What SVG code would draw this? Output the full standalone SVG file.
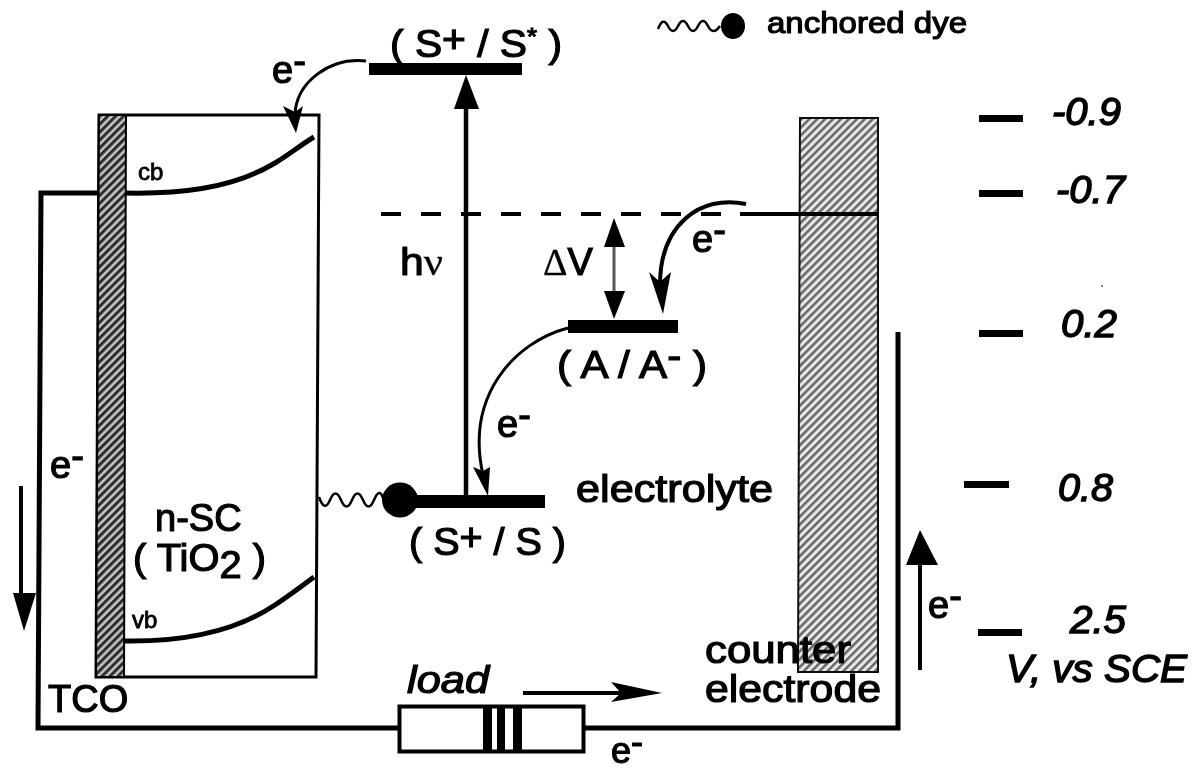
<svg xmlns="http://www.w3.org/2000/svg" width="1194" height="771" viewBox="0 0 1194 771">
<style>
text{font-family:"Liberation Sans",Arial,sans-serif;fill:#000;stroke:#000;stroke-width:1.2}
.t{font-size:38px}
.s{font-size:24px;stroke-width:.8}
.i{font-size:38px;font-style:italic;stroke-width:1.4}
.w{fill:none;stroke:#000}
.nu{font-family:"Liberation Serif",serif;stroke-width:.3}
</style>
<defs>
<pattern id="hd" width="5.6" height="5.6" patternUnits="userSpaceOnUse" patternTransform="rotate(-45)">
<rect width="5.6" height="5.6" fill="#c8c8c8"/><rect width="5.6" height="3.1" fill="#2e2e2e"/>
</pattern>
<pattern id="hl" width="5.6" height="5.6" patternUnits="userSpaceOnUse" patternTransform="rotate(-45)">
<rect width="5.6" height="5.6" fill="#e8e8e8"/><rect width="5.6" height="2.5" fill="#666"/>
</pattern>
<filter id="soft" x="0" y="0" width="100%" height="100%"><feGaussianBlur stdDeviation="0.6"/></filter>
</defs>
<rect width="1194" height="771" fill="#fff"/>
<g filter="url(#soft)">
<g id="semiconductor">
<polygon points="99,115 319,115 316,677 96,677" fill="#fff" stroke="#000" stroke-width="3"/>
<path class="w" stroke-width="5" d="M125,193 C175,194 230,190 275,163 C290,154 302,144 314,137"/>
<path class="w" stroke-width="5" d="M123,641 C175,642 230,635 275,605 C290,595 302,586 314,577"/>
<text class="s" x="138" y="180">cb</text>
<text class="s" x="132" y="628">vb</text>
<text class="t" x="155" y="531">n-SC</text>
<text class="t" x="133" y="571" textLength="133" lengthAdjust="spacingAndGlyphs">( TiO<tspan dy="7">2</tspan><tspan dy="-7"> )</tspan></text>
</g>
<g id="tco">
<polygon points="99,115 126,115 124,677 96,677" fill="url(#hd)" stroke="#000" stroke-width="2"/>
<text class="t" x="48" y="712">TCO</text>
</g>
<g id="counter-electrode">
<polygon points="800,118 878,118 878,672 798,672" fill="url(#hl)" stroke="#111" stroke-width="2"/>
<text class="t" x="705" y="663" textLength="146" lengthAdjust="spacingAndGlyphs">counter</text>
<text class="t" x="705" y="702" textLength="176" lengthAdjust="spacingAndGlyphs">electrode</text>
</g>
<g id="connectors">
<path class="w" stroke-width="5" d="M99,193 H41 L38,728 H398 M584,728 H898 V332"/>
<path class="w" stroke-width="4" stroke-dasharray="20 20" d="M381,214 H722"/>
<path class="w" stroke-width="4" d="M740,214 H878"/>
<path class="w" stroke-width="4.500" d="M466,498 V100"/>
<polygon points="466,75 479,109 454,109"/>
<path fill="none" stroke="#555" stroke-width="3" d="M614,240 V295"/>
<polygon points="614,218 625,247 604,247"/>
<polygon points="614,319 625,291 604,291"/>
<path class="w" stroke-width="3" d="M366,61 C330,57 296,82 295,115"/>
<polygon points="296,133 283,106 295,112 303,106"/>
<path class="w" stroke-width="4" d="M746,204 C700,194 660,225 660,285"/>
<polygon points="663,314 649,272 660,282 671,272"/>
<path class="w" stroke-width="3" d="M568,328 C515,342 465,395 483,475"/>
<polygon points="488,496 473,467 483,471 490,467"/>
<path class="w" stroke-width="4" d="M21,486 V600"/>
<polygon points="24,631 13,593 36,593"/>
<path class="w" stroke-width="4" d="M920,670 V560"/>
<polygon points="920,530 938,565 906,565"/>
<path class="w" stroke-width="4" d="M523,693 H625"/>
<polygon points="662,693 611,682 621,693 611,702"/>
<path class="w" stroke-width="2.500" d="M319,497 q5.500,16 11,3 t11,0 t11,0 t11,0 t11,0 t9,-2"/>
</g>
<g id="level-s-star">
<rect x="369" y="63" width="153" height="12"/>
<text class="t" x="390" y="57" textLength="172" lengthAdjust="spacingAndGlyphs">( S<tspan dy="-5">+</tspan><tspan dy="5"> / S</tspan><tspan dy="-12" font-size="24">*</tspan><tspan dy="12"> )</tspan></text>
</g>
<g id="level-a">
<rect x="568" y="320" width="110" height="13"/>
<text class="t" x="557" y="378" textLength="150" lengthAdjust="spacingAndGlyphs">( A / A<tspan dy="-9">-</tspan><tspan dy="9"> )</tspan></text>
</g>
<g id="level-s">
<rect x="415" y="495" width="130" height="13"/>
<ellipse cx="400" cy="500" rx="18" ry="17.500"/>
<text class="t" x="409" y="555" textLength="157" lengthAdjust="spacingAndGlyphs">( S<tspan dy="-5">+</tspan><tspan dy="5"> / S )</tspan></text>
</g>
<g id="load">
<rect x="399.500" y="706.500" width="184" height="45" fill="#fff" stroke="#000" stroke-width="4"/>
<rect x="483" y="705" width="9" height="48"/>
<rect x="497" y="705" width="8" height="48"/>
<rect x="513" y="705" width="9" height="48"/>
<text class="t" x="407" y="693" font-style="italic" textLength="82" lengthAdjust="spacingAndGlyphs">load</text>
</g>
<g id="labels">
<text class="t" x="400" y="275" textLength="43" lengthAdjust="spacingAndGlyphs">h<tspan class="nu">ν</tspan></text>
<text class="t" x="543" y="275"><tspan class="nu">Δ</tspan>V</text>
<text class="t" x="576" y="502" textLength="197" lengthAdjust="spacingAndGlyphs">electrolyte</text>
<text class="t" x="272" y="83">e<tspan dy="-9">-</tspan></text>
<text class="t" x="692" y="252">e<tspan dy="-9">-</tspan></text>
<text class="t" x="497" y="437">e<tspan dy="-9">-</tspan></text>
<text class="t" x="50" y="478">e<tspan dy="-9">-</tspan></text>
<text class="t" x="928" y="618">e<tspan dy="-9">-</tspan></text>
<text x="611" y="763" font-size="36">e<tspan dy="-9">-</tspan></text>
</g>
<g id="legend">
<path class="w" stroke-width="2.500" d="M658,29 q5,-13 10,-3 t10,0 t10,0 t10,0 t10,0 t12,0"/>
<ellipse cx="733" cy="26" rx="12" ry="13"/>
<text x="767" y="33" font-size="30" textLength="200" lengthAdjust="spacingAndGlyphs">anchored dye</text>
</g>
<g id="scale">
<rect x="979" y="115" width="44" height="7"/>
<rect x="979" y="190" width="44" height="7"/>
<rect x="979" y="330" width="44" height="7"/>
<rect x="964" y="481" width="45" height="7"/>
<rect x="978" y="629" width="44" height="7"/>
<text class="i" x="1052" y="125" textLength="69" lengthAdjust="spacingAndGlyphs">-0.9</text>
<text class="i" x="1056" y="203" textLength="69" lengthAdjust="spacingAndGlyphs">-0.7</text>
<text class="i" x="1061" y="337" textLength="56" lengthAdjust="spacingAndGlyphs">0.2</text>
<text class="i" x="1058" y="501" textLength="55" lengthAdjust="spacingAndGlyphs">0.8</text>
<text class="i" x="1070" y="633" textLength="56" lengthAdjust="spacingAndGlyphs">2.5</text>
<text class="i" x="1006" y="682" textLength="181" lengthAdjust="spacingAndGlyphs">V, vs SCE</text>
<circle cx="1102" cy="286" r="1" fill="#555"/>
</g>
</g>
</svg>
